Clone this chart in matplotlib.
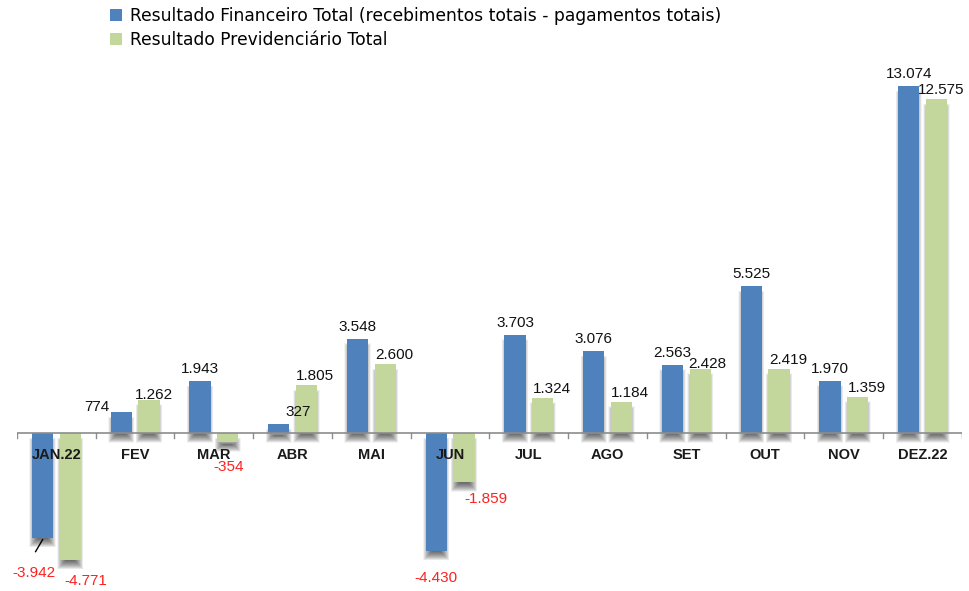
import matplotlib
matplotlib.use("Agg")
import matplotlib.pyplot as plt
from matplotlib.patches import Rectangle
import numpy as np

# ==================== Dados ====================
meses = ["JAN.22", "FEV", "MAR", "ABR", "MAI", "JUN", "JUL", "AGO", "SET", "OUT", "NOV", "DEZ.22"]
financeiro = [-3942, 774, 1943, 327, 3548, -4430, 3703, 3076, 2563, 5525, 1970, 13074]
previdenciario = [-4771, 1262, -354, 1805, 2600, -1859, 1324, 1184, 2428, 2419, 1359, 12575]
serie_nomes = ["Resultado Financeiro Total (recebimentos totais - pagamentos totais)",
               "Resultado Previdenciário Total"]

AZUL = "#4F81BD"
VERDE = "#C3D69B"

plt.rcParams['font.family'] = ['Liberation Sans', 'DejaVu Sans']

# ajustes manuais de alguns rótulos (px): (serie, indice) -> (dx, dy)
ajustes = {
    (0, 0): (-9, -8),
    (0, 1): (-24, -7),
    (0, 3): (19, 0),
    (1, 0): (6, -4),
    (1, 1): (-4, -4),
    (1, 2): (-9, -8),
    (1, 5): (12, 0),
    (1, 8): (-2, -4),
    (1, 11): (-4, 0),
}


def fmt(v):
    return f"{v:,}".replace(",", ".")


def sombra(ax, x, w, v, px_x, px_y):
    """sombra difusa na base da barra"""
    y0, y1 = min(0, v), max(0, v)
    dy = 7 * px_y
    for e in np.arange(-6, 3, 0.5):
        ax.add_patch(Rectangle((x - w / 2 - e * px_x, y0 - dy - e * px_y),
                               w + 2 * e * px_x, (y1 - y0) + 2 * e * px_y,
                               facecolor="black", alpha=0.045, lw=0, zorder=1))


fig = plt.figure(figsize=(9.7, 5.91), dpi=100)
ax = fig.add_axes([17 / 970, 0, 945 / 970, 1])
ymin, ymax = -5953, 16315
ax.set_xlim(-0.5, 11.5)
ax.set_ylim(ymin, ymax)

px_x = 12 / 945          # 1 px em unidades de x
px_y = (ymax - ymin) / 591  # 1 px em unidades de y

x = np.arange(len(meses))
w = 0.27
off = 0.175

for i in range(len(meses)):
    sombra(ax, x[i] - off, w, financeiro[i], px_x, px_y)
    sombra(ax, x[i] + off, w, previdenciario[i], px_x, px_y)

b1 = ax.bar(x - off, financeiro, w, color=AZUL, zorder=3, label=serie_nomes[0])
b2 = ax.bar(x + off, previdenciario, w, color=VERDE, zorder=3, label=serie_nomes[1])

# rótulos de valores
for s, (serie, desloc) in enumerate([(financeiro, -off), (previdenciario, off)]):
    for i, v in enumerate(serie):
        dx, dy = ajustes.get((s, i), (0, 0))
        if v >= 0:
            bx, by = (0, 5) if s == 0 else (9, 2)
            va, cor = "bottom", "#111111"
        else:
            bx, by = (0, -20) if s == 0 else (10, -10)
            va, cor = "top", "#FF2020"
        ax.annotate(fmt(v), (x[i] + desloc, v),
                    xytext=((bx + dx) * 0.72, (by + dy) * 0.72), textcoords="offset points",
                    ha="center", va=va, fontsize=11, color=cor, zorder=5)

# linha de chamada do JAN.22
ax.plot([x[0] - off, x[0] - off - 7 * px_x], [financeiro[0] - 2 * px_y, financeiro[0] - 14 * px_y],
        color="black", lw=1, zorder=5)

# eixo zero e marcas
ax.axhline(0, color="#8C8C8C", lw=1.2, zorder=4)
for b in np.arange(-0.5, 12, 1):
    ax.plot([b, b], [0, -5 * px_y], color="#8C8C8C", lw=1, zorder=4)

for i, m in enumerate(meses):
    ax.text(x[i], -15 * px_y, m, ha="center", va="top", fontsize=10.5,
            fontweight="bold", color="#1a1a1a", zorder=6)

for sp in ax.spines.values():
    sp.set_visible(False)
ax.set_xticks([])
ax.set_yticks([])

ax.legend(handles=[b1, b2], loc="upper left", bbox_to_anchor=(81 / 945, 1.008),
          frameon=False, prop={'family': 'DejaVu Sans', 'size': 12.3},
          handlelength=0.7, handleheight=0.7,
          handletextpad=0.45, labelspacing=0.35, borderaxespad=0.3)

fig.savefig("out.png", dpi=100, facecolor="white")
